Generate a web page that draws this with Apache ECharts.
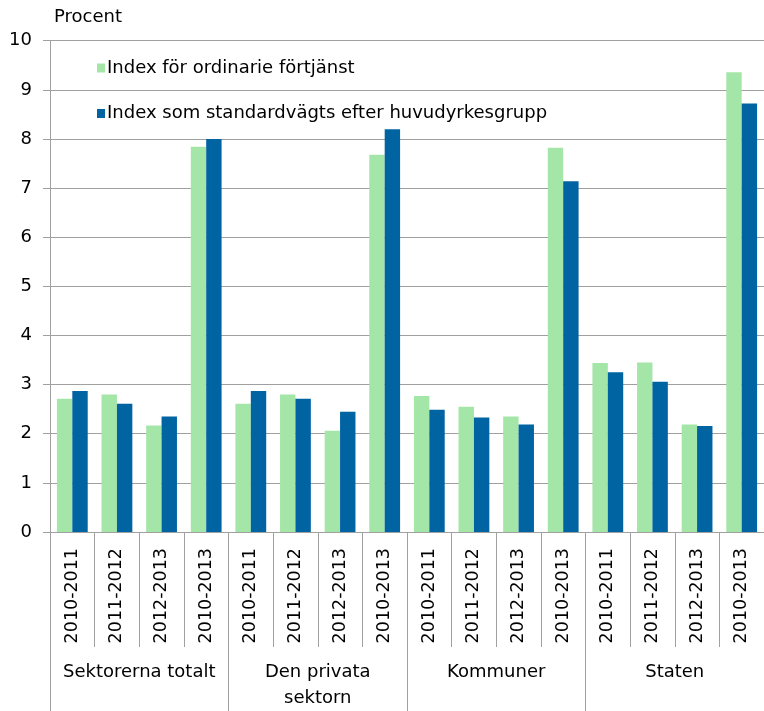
<!DOCTYPE html>
<html>
<head>
<meta charset="utf-8">
<script src="https://cdn.jsdelivr.net/npm/echarts@6/dist/echarts.min.js"></script>
<style>html,body{margin:0;padding:0;background:#fff}#c{width:764px;height:711px}</style>
</head>
<body>
<div id="c"></div>
<script>
const periods = ["2010-2011","2011-2012","2012-2013","2010-2013","2010-2011","2011-2012","2012-2013","2010-2013","2010-2011","2011-2012","2012-2013","2010-2013","2010-2011","2011-2012","2012-2013","2010-2013"];
const groups = ["Sektorerna totalt","Den privata\nsektorn","Kommuner","Staten"];
const seriesNames = ["Index för ordinarie förtjänst","Index som standardvägts efter huvudyrkesgrupp"];
const ordinarie = [2.71,2.80,2.17,7.84, 2.61,2.80,2.06,7.68, 2.77,2.55,2.35,7.82, 3.44,3.45,2.19,9.36];
const standardvagt = [2.87,2.61,2.35,8.00, 2.87,2.71,2.45,8.20, 2.49,2.33,2.19,7.14, 3.25,3.06,2.16,8.72];
const yTicks = [0,1,2,3,4,5,6,7,8,9,10];

const font = "DejaVu Sans";
const axisGray = "#a0a0a0";
const chart = echarts.init(document.getElementById('c'));
chart.setOption({
  animation: false,
  backgroundColor: '#fff',
  textStyle: {fontFamily: font, color: '#000'},
  title: {text: 'Procent', left: 54, top: 8, padding: 0, textStyle: {fontFamily: font, fontSize: 18, fontWeight: 'normal', color: '#000'}},
  legend: {
    orient: 'vertical', left: 97, top: 59, padding: 0, itemGap: 27.5, itemWidth: 8, itemHeight: 9, icon: 'rect',
    textStyle: {fontFamily: font, fontSize: 18, color: '#000', padding: [0,0,0,-3]},
    data: seriesNames
  },
  grid: {left: 50, right: 0, top: 40.7, bottom: 174.3, containLabel: false},
  xAxis: [
    {
      type: 'category', data: periods, position: 'bottom',
      axisLine: {show: true, lineStyle: {color: axisGray}},
      axisTick: {show: true, length: 115, lineStyle: {color: axisGray}},
      axisLabel: {rotate: 90, margin: 16, interval: 0, fontFamily: font, fontSize: 17.5, color: '#000'}
    },
    {
      type: 'category', data: groups, position: 'bottom',
      axisLine: {show: false},
      axisTick: {show: true, length: 180, lineStyle: {color: axisGray}},
      axisLabel: {margin: 127, interval: 0, fontFamily: font, fontSize: 18, lineHeight: 26, color: '#000'}
    }
  ],
  yAxis: {
    type: 'value', min: 0, max: 10, interval: 1,
    axisLine: {show: true, lineStyle: {color: axisGray}},
    axisTick: {show: true, length: 7, lineStyle: {color: axisGray}},
    splitLine: {lineStyle: {color: axisGray}},
    axisLabel: {margin: 18, fontFamily: font, fontSize: 18, color: '#000',
      formatter: v => yTicks.includes(v) ? String(v) : ''}
  },
  series: [
    {name: seriesNames[0], type: 'bar', data: ordinarie, xAxisIndex: 0, barGap: '0%', barCategoryGap: '31%', itemStyle: {color: '#A3E6A7'}},
    {name: seriesNames[1], type: 'bar', data: standardvagt, xAxisIndex: 0, barGap: '0%', barCategoryGap: '31%', itemStyle: {color: '#0063A2'}}
  ]
});
</script>
</body>
</html>
